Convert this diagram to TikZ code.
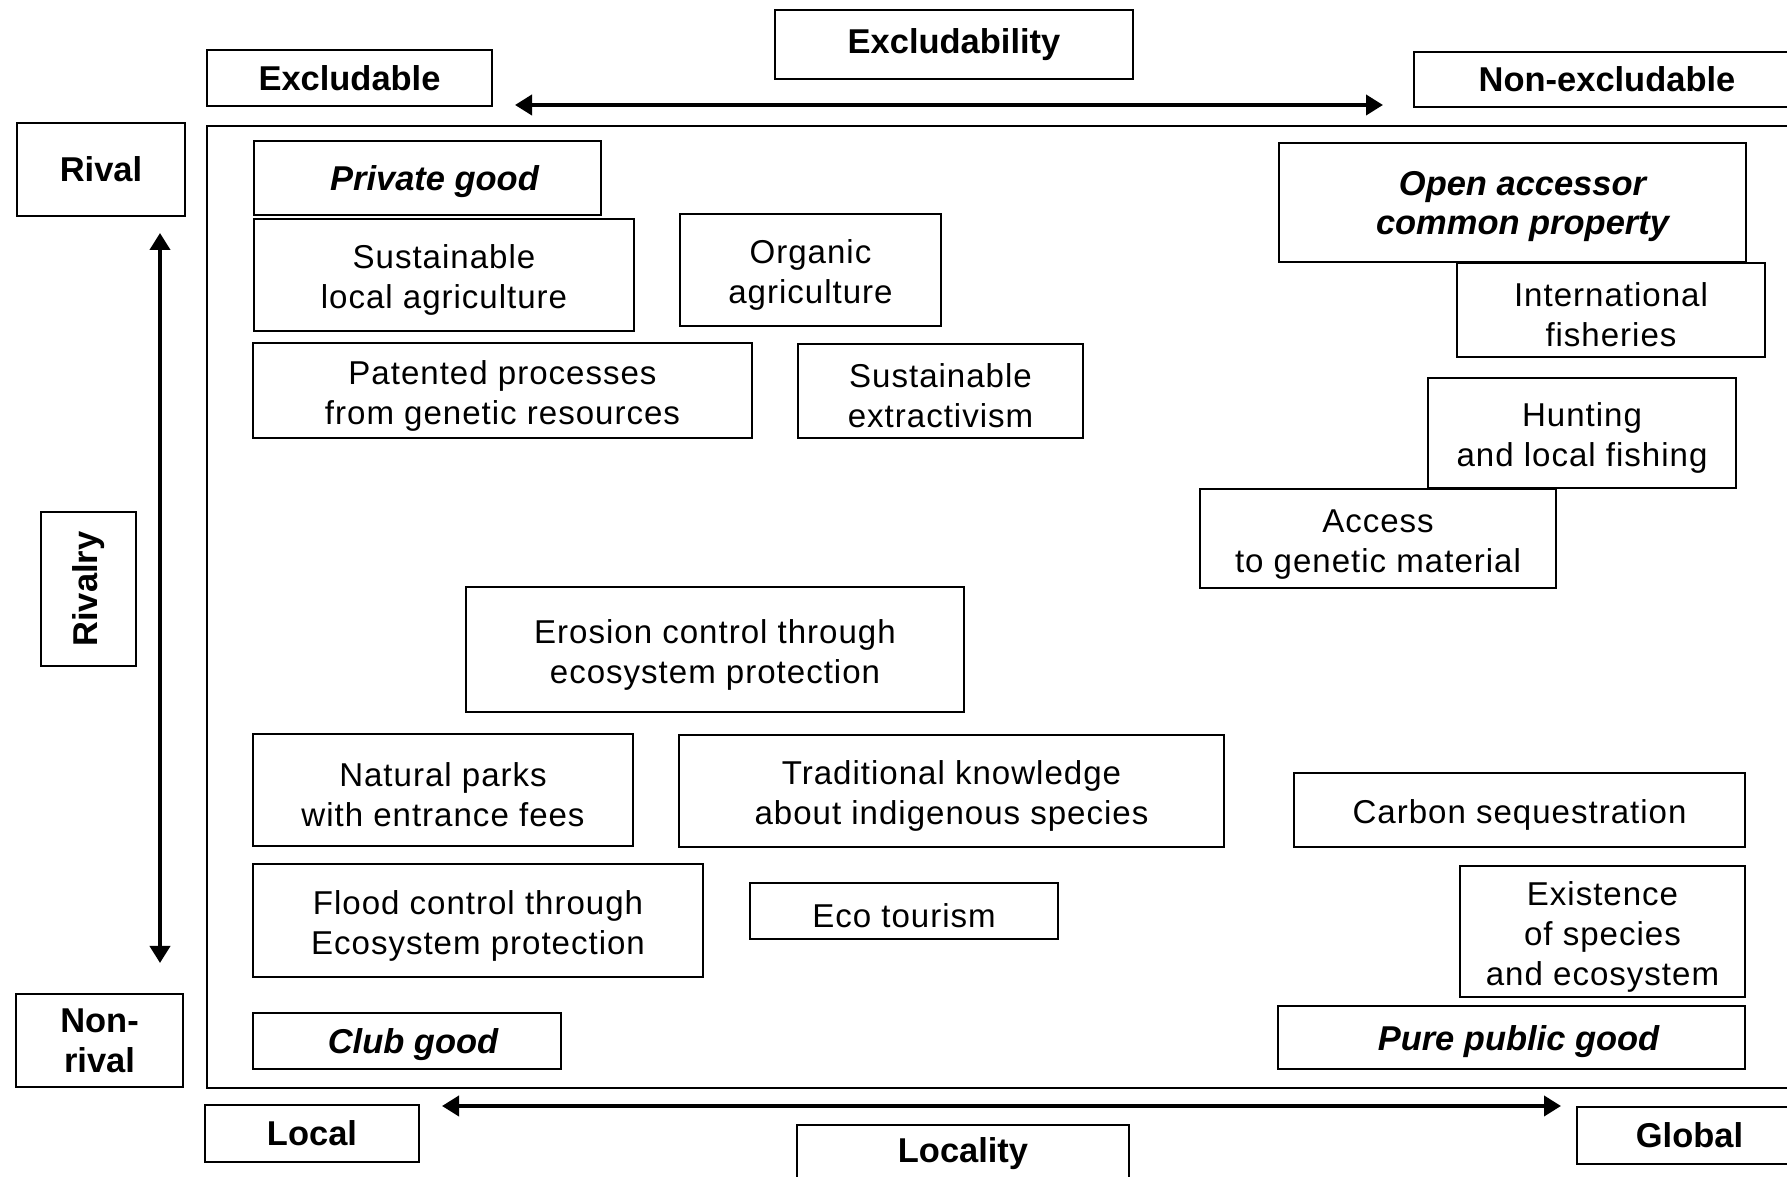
\documentclass[tikz,border=0pt]{standalone}
\usepackage{fontspec}
\setmainfont{Liberation Sans}
\newfontfamily\itemfont[LetterSpace=3.0]{Liberation Sans}
\usetikzlibrary{arrows.meta}
\newcommand{\up}{\rule{0pt}{9.7pt}}
\newcommand{\upc}{\rule{0pt}{9.2pt}}
\tikzset{
  box/.style={draw, line width=0.8pt, inner sep=0pt, align=center, font=\itemfont\fontsize{9.4}{11.4}\selectfont},
  hdr/.style={font=\fontsize{9.8}{11.4}\selectfont\bfseries},
  cat/.style={font=\fontsize{9.8}{11.2}\selectfont\bfseries\itshape},
  axis/.style={line width=1.1pt, {Triangle[length=0.17cm,width=0.2cm]}-{Triangle[length=0.17cm,width=0.2cm]}},
}
\newcommand{\bx}[7][]{\node[box,#1,minimum width={(#5-#3)*0.01cm},minimum height={(#6-#4)*0.01cm}] (#2) at ({(#3+#5)/2},{(#4+#6)/2}) {#7};}
\begin{document}
\begin{tikzpicture}[x=0.01cm,y=-0.01cm]
\useasboundingbox (0,0) rectangle (1787,1177);
\clip (0,0) rectangle (1787,1177);
% axis labels
\bx[hdr]{excludability}{775}{10}{1133}{79}{Excludability}
\bx[hdr]{excludable}{207}{50}{492}{106}{Excludable}
\bx[hdr]{nonexcludable}{1414}{52}{1800}{107}{Non-excludable}
\bx[hdr]{rival}{17}{123}{185}{216}{Rival}
\bx[hdr]{nonrival}{16}{994}{183}{1087}{Non-\\rival}
\node[box,hdr,rotate=90,minimum width=1.54cm,minimum height=0.95cm] (rivalry) at (88.5,589) {Rivalry};
\bx[hdr]{local}{205}{1105}{419}{1162}{Local}
\bx[hdr]{locality}{797}{1125}{1129}{1182}{Locality}
\bx[hdr]{global}{1577}{1107}{1802}{1164}{Global}
% frame
\bx{frame}{207}{126}{1800}{1088}{}
% arrows
\coordinate (exL) at (515,105);
\coordinate (exR) at (1383,105);
\draw[axis] (exL) -- (exR);
\coordinate (rvT) at (160,233);
\coordinate (rvB) at (160,963);
\draw[axis] (rvT) -- (rvB);
\coordinate (loL) at (442,1106);
\coordinate (loR) at (1561,1106);
\draw[axis] (loL) -- (loR);
% categories
\bx[cat]{private}{254}{141}{601}{215}{\upc\hspace*{0.14cm}Private good}
\bx[cat]{open}{1279}{143}{1746}{262}{\upc\hspace*{0.2cm}Open accessor\\\hspace*{0.2cm}common property}
\bx[cat]{club}{253}{1013}{561}{1069}{\upc\hspace*{0.12cm}Club good}
\bx[cat]{public}{1278}{1006}{1745}{1069}{\upc\hspace*{0.14cm}Pure public good}
% items
\bx{sustag}{254}{219}{634}{331}{\up Sustainable\\local agriculture}
\bx{organic}{680}{214}{941}{326}{\up Organic\\agriculture}
\bx{patented}{253}{343}{752}{438}{\up Patented processes\\from genetic resources}
\bx{extract}{798}{344}{1083}{438}{\up Sustainable\\extractivism}
\bx{fisheries}{1457}{263}{1765}{357}{\up International\\fisheries}
\bx{hunting}{1428}{378}{1736}{488}{\up Hunting\\and local fishing}
\bx{access}{1200}{489}{1556}{588}{\up Access\\to genetic material}
\bx{erosion}{466}{587}{964}{712}{\up Erosion control through\\ecosystem protection}
\bx{parks}{253}{734}{633}{846}{\up Natural parks\\with entrance fees}
\bx{tradknow}{679}{735}{1224}{847}{\up Traditional knowledge\\about indigenous species}
\bx{carbon}{1294}{773}{1745}{847}{\up Carbon sequestration}
\bx{flood}{253}{864}{703}{977}{\up Flood control through\\Ecosystem protection}
\bx{eco}{750}{883}{1058}{939}{\up Eco tourism}
\bx{existence}{1460}{866}{1745}{997}{\up Existence\\of species\\and ecosystem}
\end{tikzpicture}
\end{document}
